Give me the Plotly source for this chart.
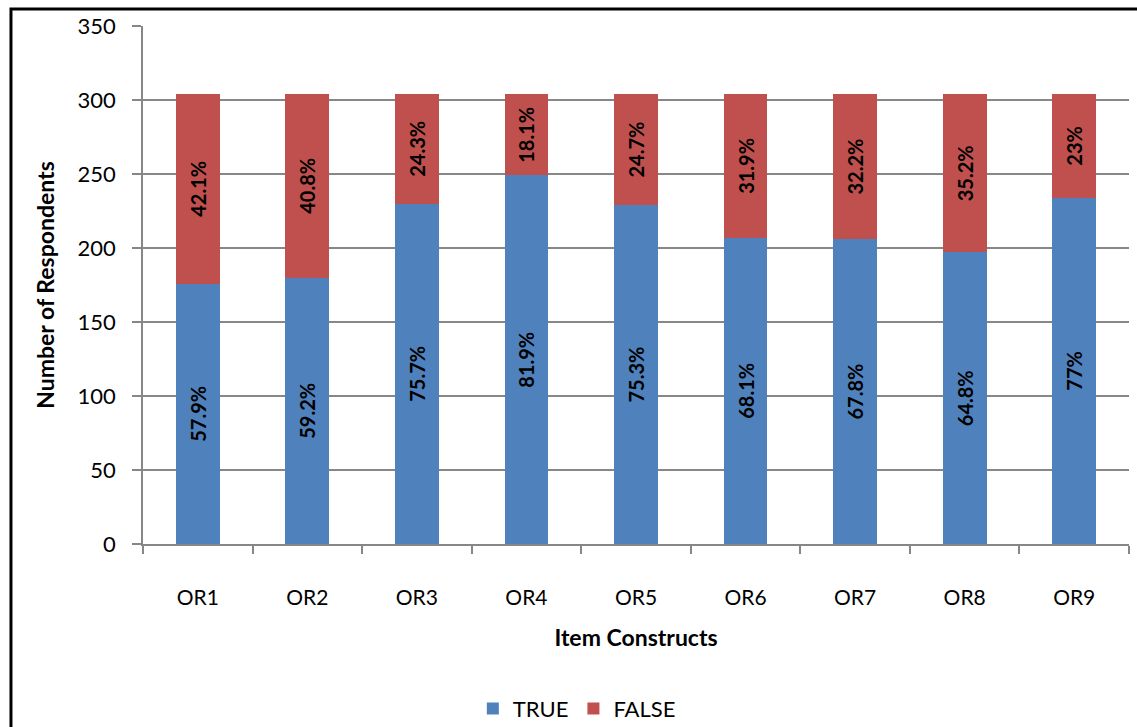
import plotly.graph_objects as go

# Survey results per item construct (number of respondents)
categories = ["OR1", "OR2", "OR3", "OR4", "OR5", "OR6", "OR7", "OR8", "OR9"]
true_counts = [176, 180, 230, 249, 229, 207, 206, 197, 234]
false_counts = [128, 124, 74, 55, 75, 97, 98, 107, 70]
y_ticks = [0, 50, 100, 150, 200, 250, 300, 350]

BLUE = "#4F81BD"
RED = "#C0504D"
GRID = "#878787"
FONT = "Lato, Carlito, Calibri, sans-serif"


def pct_labels(part, other):
    labels = []
    for a, b in zip(part, other):
        p = round(a / (a + b) * 100, 1)
        labels.append(f"{p:g}%")
    return labels


fig = go.Figure()
for name, vals, other, color in [
    ("TRUE", true_counts, false_counts, BLUE),
    ("FALSE", false_counts, true_counts, RED),
]:
    fig.add_trace(go.Bar(
        x=categories, y=vals, name=name,
        marker=dict(color=color, line=dict(width=0)),
        text=pct_labels(vals, other),
        textposition="inside", insidetextanchor="middle",
        textangle=-90, constraintext="none",
        textfont=dict(family=FONT, size=20, color="black", weight="bold"),
    ))

fig.update_layout(
    barmode="stack", bargap=0.6,
    width=1137, height=727,
    margin=dict(l=143, r=8, t=26, b=183, autoexpand=False),
    paper_bgcolor="white", plot_bgcolor="white",
    font=dict(family=FONT, size=22, color="black"),
    showlegend=True,
    legend=dict(orientation="h", x=0.44, xanchor="center", y=-0.318, yanchor="middle",
                font=dict(size=22), itemsizing="constant", traceorder="normal"),
    xaxis=dict(
        automargin=False,
        showline=True, linecolor=GRID, linewidth=1.5,
        ticks="outside", tickson="boundaries", ticklen=8, tickcolor=GRID, tickwidth=1.5,
        tickfont=dict(size=21),
        ticklabelstandoff=34,
        title=dict(text="<b>Item Constructs</b>", font=dict(size=23), standoff=22),
    ),
    yaxis=dict(
        automargin=False,
        range=[0, 350], tickvals=y_ticks,
        showgrid=True, gridcolor=GRID, gridwidth=1.5,
        showline=True, linecolor=GRID, linewidth=1.5,
        ticks="outside", ticklen=9, tickcolor=GRID, tickwidth=1.5,
        tickfont=dict(size=22),
        ticklabelstandoff=12, zeroline=False,
        title=dict(text="<b>Number of Respondents</b>", font=dict(size=23), standoff=17),
    ),
    shapes=[dict(type="rect", xref="paper", yref="paper",
                 x0=-0.1339, x1=1.03, y0=-0.45, y1=1.0328,
                 line=dict(color="black", width=3), fillcolor="rgba(0,0,0,0)")],
)

fig.write_html("out.html")
